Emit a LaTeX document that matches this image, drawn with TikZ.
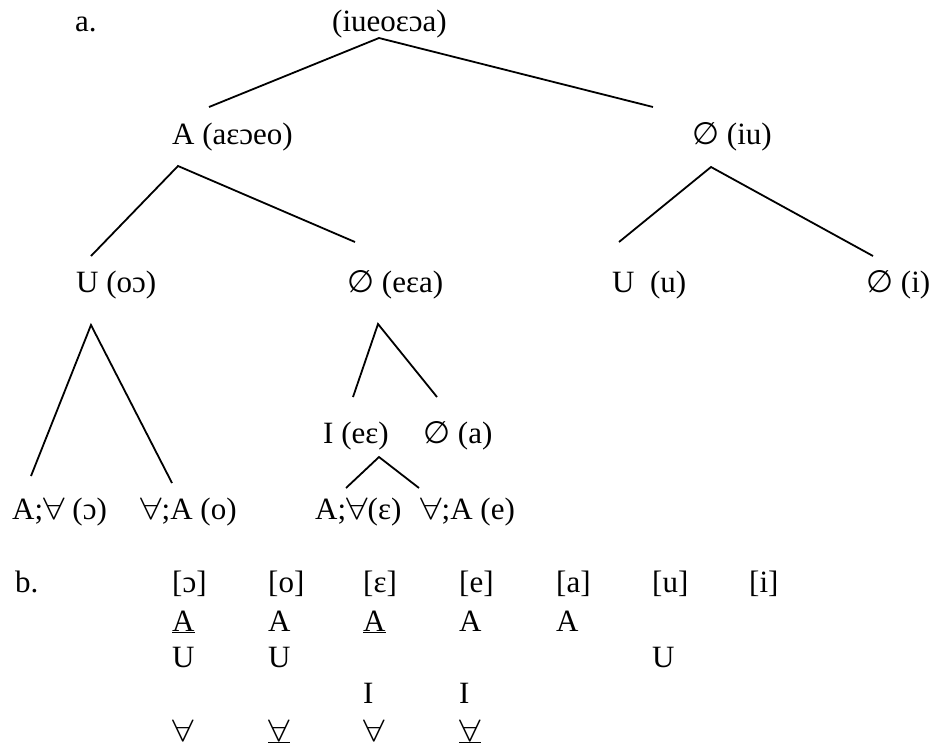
\RequirePackage{fix-cm}
\documentclass[tikz,border=0pt]{standalone}
\usepackage{fontspec}
\setmainfont{Liberation Serif}
\newfontfamily\symf[Scale=1.0]{DejaVu Sans}
% empty-set sign and a widened universal quantifier
\newcommand{\nul}{{\symf ∅}}
\newcommand{\fa}{\scalebox{1.25}[1]{$\forall$}}
\begin{document}
\begin{tikzpicture}[x=1pt,y=-1pt,
  lbl/.style={anchor=base west,inner sep=0pt,font=\fontsize{31}{36}\selectfont},
  branch/.style={line width=1.8pt,line cap=butt}]
\useasboundingbox (0,0) rectangle (933,748);

% ---- (a) the element tree ----
\node[lbl] (tagA) at (75,31) {a.};
\node[lbl] (root) at (332,31) {(iueoɛɔa)};

\node[lbl] (nA)  at (172,144) {A (aɛɔeo)};
\node[lbl] (nZ)  at (692,144) {\nul\ (iu)};

\node[lbl] (nAU) at (76,292)  {U (oɔ)};
\node[lbl] (nAZ) at (347,292) {\nul\ (eɛa)};
\node[lbl] (nZU) at (612,292) {U\ \ (u)};
\node[lbl] (nZZ) at (866,292) {\nul\ (i)};

\node[lbl] (nI)  at (323,443) {I (eɛ)};
\node[lbl] (nIa) at (423,443) {\nul\ (a)};

\node[lbl] (lo1) at (12,519)  {A;\fa\ (ɔ)};
\node[lbl] (lo2) at (140,519) {\fa;A (o)};
\node[lbl] (le1) at (315,519) {A;\fa(ɛ)};
\node[lbl] (le2) at (420,519) {\fa;A (e)};

% branch points
\coordinate (root-b) at (379,38);
\coordinate (nA-t)   at (209,107);
\coordinate (nZ-t)   at (653,107);
\coordinate (nA-b)   at (178,166);
\coordinate (nAU-t)  at (91,256);
\coordinate (nAZ-t)  at (355,242);
\coordinate (nZ-b)   at (711,167);
\coordinate (nZU-t)  at (619,242);
\coordinate (nZZ-t)  at (873,256);
\coordinate (nAU-b)  at (91,325);
\coordinate (lo1-t)  at (31,476);
\coordinate (lo2-t)  at (172,483);
\coordinate (nAZ-b)  at (378,324);
\coordinate (nI-t)   at (353,397);
\coordinate (nIa-t)  at (437,397);
\coordinate (nI-b)   at (379,457);
\coordinate (le1-t)  at (346,488);
\coordinate (le2-t)  at (419,488);

\draw[branch] (nA-t) -- (root-b) -- (nZ-t);
\draw[branch] (nAU-t) -- (nA-b) -- (nAZ-t);
\draw[branch] (nZU-t) -- (nZ-b) -- (nZZ-t);
\draw[branch] (lo1-t) -- (nAU-b) -- (lo2-t);
\draw[branch] (nI-t) -- (nAZ-b) -- (nIa-t);
\draw[branch] (le1-t) -- (nI-b) -- (le2-t);

% ---- (b) the element table ----
\node[lbl] (tagB) at (15,592) {b.};
\node[lbl] (h1) at (172,592) {[ɔ]};
\node[lbl] (h2) at (268,592) {[o]};
\node[lbl] (h3) at (363,592) {[ɛ]};
\node[lbl] (h4) at (459,592) {[e]};
\node[lbl] (h5) at (556,592) {[a]};
\node[lbl] (h6) at (652,592) {[u]};
\node[lbl] (h7) at (749,592) {[i]};

\node[lbl] (a1) at (172,631) {\underline{A}};
\node[lbl] (a2) at (268,631) {A};
\node[lbl] (a3) at (363,631) {\underline{A}};
\node[lbl] (a4) at (459,631) {A};
\node[lbl] (a5) at (556,631) {A};

\node[lbl] (u1) at (172,667) {U};
\node[lbl] (u2) at (268,667) {U};
\node[lbl] (u6) at (652,667) {U};

\node[lbl] (i3) at (363,703) {I};
\node[lbl] (i4) at (459,703) {I};

\node[lbl] (f1) at (172,741) {\fa};
\node[lbl] (f2) at (268,741) {\underline{\fa}};
\node[lbl] (f3) at (363,741) {\fa};
\node[lbl] (f4) at (459,741) {\underline{\fa}};
\end{tikzpicture}
\end{document}
